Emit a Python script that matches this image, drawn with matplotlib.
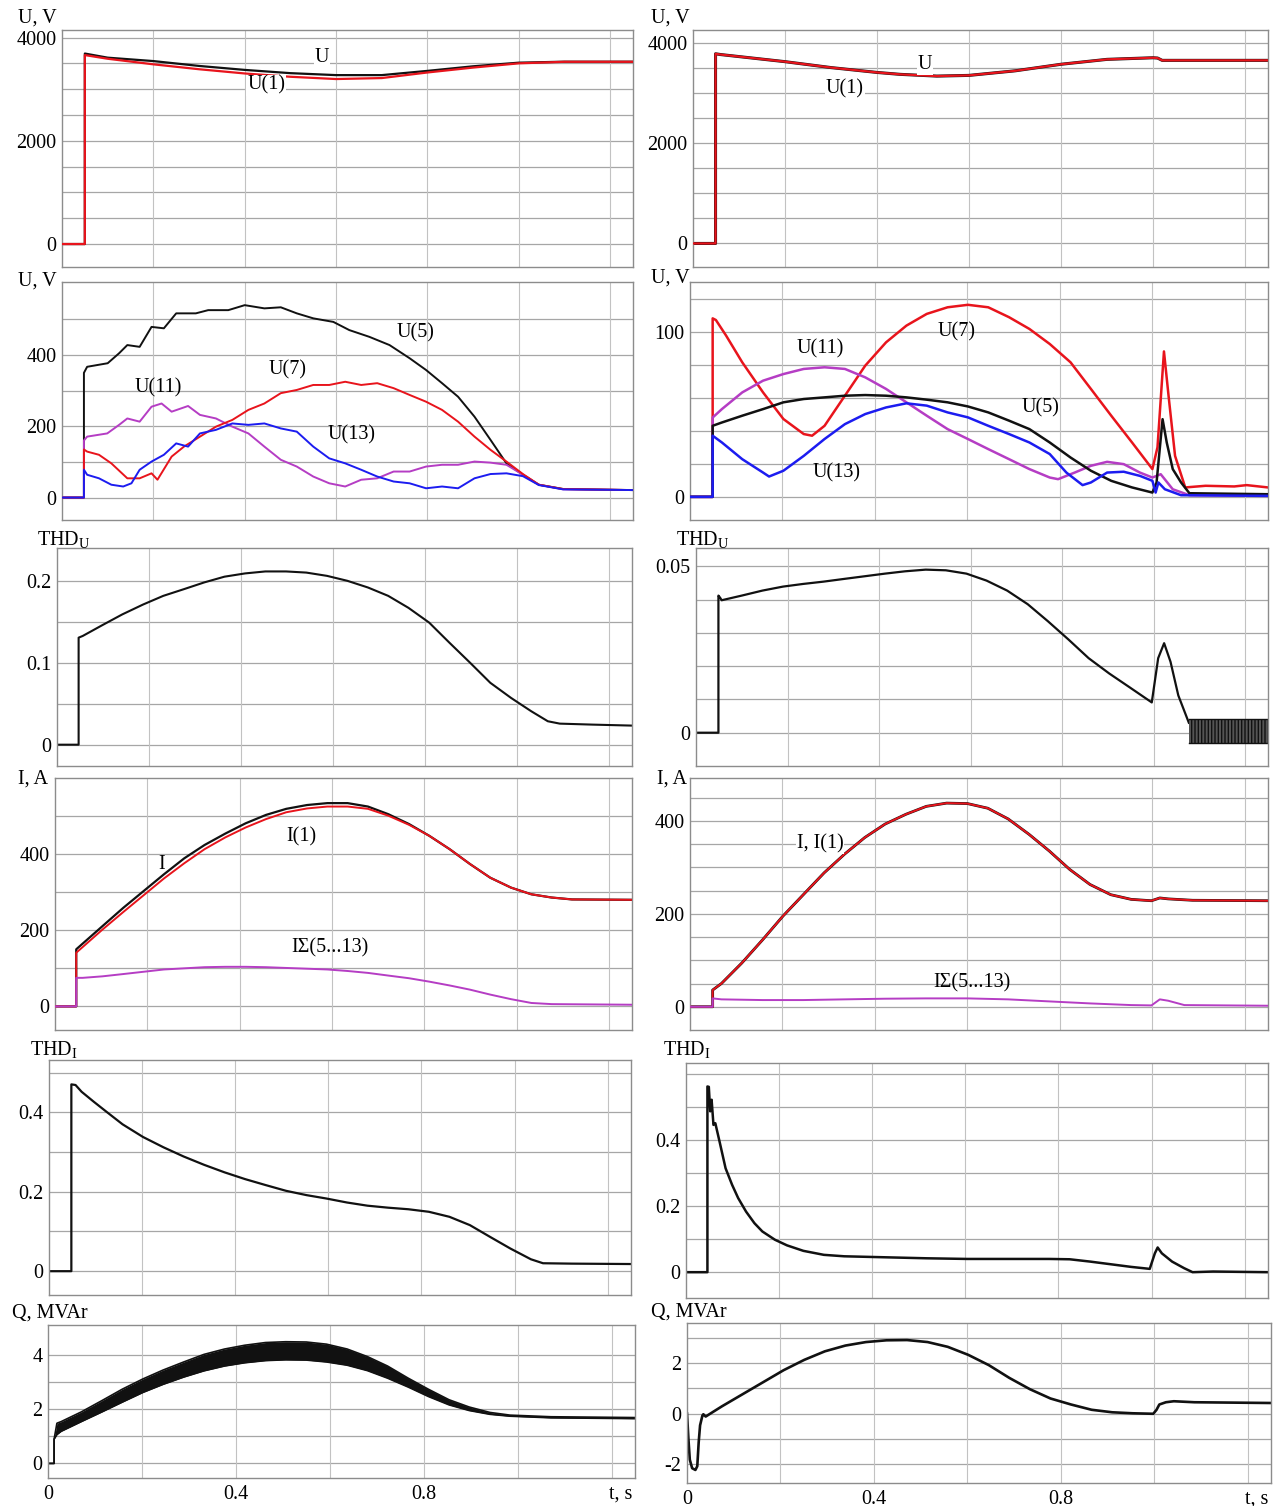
import matplotlib
matplotlib.use('Agg')
import matplotlib.pyplot as plt

plt.rcParams['font.family'] = ['Liberation Serif', 'DejaVu Serif']
plt.rcParams['mathtext.fontset'] = 'custom'
plt.rcParams['mathtext.rm'] = 'Liberation Serif'
plt.rcParams['mathtext.it'] = 'Liberation Serif:italic'
plt.rcParams['mathtext.bf'] = 'Liberation Serif:bold'
plt.rcParams['hatch.linewidth'] = 1.0

# ---------------- data ----------------
# Row 1 left: U, U(1)
t_r1l = [0, 0.05, 0.05, 0.1, 0.2, 0.3, 0.4, 0.5, 0.6, 0.7, 0.8, 0.9, 1.0, 1.1, 1.25]
u_r1l = [0, 0, 3690, 3610, 3544, 3450, 3373, 3310, 3272, 3272, 3354, 3443, 3513, 3532, 3532]
u1_r1l = [0, 0, 3660, 3589, 3481, 3386, 3304, 3240, 3196, 3215, 3323, 3418, 3500, 3530, 3530]
# Row 1 right: U = U(1)
t_r1r = [0, 0.049, 0.049, 0.06, 0.2, 0.3, 0.4, 0.45, 0.53, 0.6, 0.7, 0.8, 0.9, 1.0, 1.01, 1.02, 1.25]
u_r1r = [0, 0, 3785, 3770, 3628, 3510, 3413, 3375, 3340, 3354, 3445, 3576, 3674, 3706, 3700, 3654, 3654]

# Row 2 left: harmonics
t5_l = [0, 0.048, 0.048, 0.055, 0.10, 0.125, 0.143, 0.17, 0.196, 0.223, 0.25, 0.293, 0.32, 0.364, 0.40, 0.443,
        0.479, 0.514, 0.55, 0.594, 0.629, 0.673, 0.717, 0.761, 0.797, 0.832, 0.867, 0.903, 0.938, 0.973, 1.009,
        1.044, 1.097, 1.25]
u5_l = [0, 0, 350, 367, 377, 405, 428, 423, 479, 475, 517, 517, 526, 526, 540, 531, 534, 517, 503, 493, 470, 451,
        428, 391, 358, 321, 283, 227, 162, 96, 64, 36, 24, 21]
t7_l = [0, 0.048, 0.048, 0.055, 0.081, 0.108, 0.143, 0.17, 0.196, 0.209, 0.24, 0.267, 0.302, 0.337, 0.373, 0.408,
        0.443, 0.479, 0.514, 0.55, 0.585, 0.62, 0.655, 0.69, 0.726, 0.761, 0.797, 0.832, 0.867, 0.903, 0.938, 0.973,
        1.009, 1.044, 1.097, 1.25]
u7_l = [0, 0, 135, 129, 120, 96, 54, 54, 68, 50, 115, 143, 171, 199, 218, 246, 264, 293, 302, 316, 316, 325, 316,
        321, 307, 288, 269, 246, 213, 171, 134, 101, 66, 36, 24, 21]
t11_l = [0, 0.048, 0.048, 0.055, 0.099, 0.125, 0.143, 0.17, 0.196, 0.218, 0.24, 0.276, 0.302, 0.337, 0.373, 0.408,
         0.443, 0.479, 0.514, 0.55, 0.585, 0.62, 0.655, 0.69, 0.726, 0.761, 0.797, 0.832, 0.867, 0.903, 0.938, 0.973,
         1.009, 1.044, 1.097, 1.25]
u11_l = [0, 0, 160, 171, 180, 204, 222, 213, 255, 264, 241, 257, 232, 222, 199, 180, 143, 106, 87, 59, 40, 31, 50,
         54, 73, 73, 87, 92, 92, 101, 98, 92, 64, 36, 23, 21]
t13_l = [0, 0.048, 0.048, 0.055, 0.081, 0.108, 0.134, 0.152, 0.17, 0.196, 0.223, 0.25, 0.276, 0.302, 0.337, 0.373,
         0.408, 0.443, 0.479, 0.514, 0.55, 0.585, 0.62, 0.655, 0.69, 0.726, 0.761, 0.797, 0.832, 0.867, 0.903, 0.938,
         0.973, 1.009, 1.044, 1.097, 1.25]
u13_l = [0, 0, 78, 64, 54, 36, 31, 40, 78, 101, 120, 152, 143, 180, 190, 208, 204, 208, 194, 185, 143, 110, 96, 78,
         59, 45, 40, 26, 31, 26, 54, 66, 68, 60, 35, 23, 21]

# Row 2 right: harmonics
t7_r = [0, 0.049, 0.049, 0.056, 0.078, 0.113, 0.158, 0.202, 0.246, 0.264, 0.291, 0.335, 0.379, 0.424, 0.468, 0.512,
        0.557, 0.601, 0.645, 0.69, 0.734, 0.778, 0.823, 0.867, 0.911, 0.956, 1.0, 1.011, 1.025, 1.035, 1.049, 1.071,
        1.115, 1.177, 1.204, 1.25]
u7_r = [0, 0, 108, 107, 97.6, 81.4, 63.2, 47.1, 38, 37, 43, 61.2, 79.4, 93.5, 103.6, 110.7, 114.7, 116.2, 114.7,
        108.7, 101.6, 92.5, 81.4, 65.3, 49.1, 32.9, 16.8, 30, 88, 61, 24.8, 5.7, 6.7, 6.3, 7.1, 5.7]
t11_r = [0, 0.049, 0.049, 0.069, 0.113, 0.158, 0.202, 0.246, 0.291, 0.335, 0.379, 0.424, 0.468, 0.512, 0.557, 0.601,
         0.645, 0.69, 0.734, 0.778, 0.796, 0.832, 0.867, 0.902, 0.938, 0.973, 1.0, 1.018, 1.044, 1.08, 1.25]
u11_r = [0, 0, 48, 53.1, 63.2, 70.3, 74.3, 77.4, 78.4, 77.4, 72.3, 65.3, 57.2, 49.1, 41, 35, 28.9, 22.8, 16.8, 11.7,
         10.7, 14.7, 18.8, 21.2, 19.8, 14.7, 11.7, 13.7, 4.6, 1, 0.6]
t5_r = [0, 0.049, 0.049, 0.069, 0.113, 0.158, 0.202, 0.246, 0.291, 0.335, 0.379, 0.424, 0.468, 0.512, 0.557, 0.601,
        0.645, 0.69, 0.734, 0.778, 0.823, 0.867, 0.911, 0.956, 1.0, 1.009, 1.022, 1.031, 1.044, 1.062, 1.08, 1.25]
u5_r = [0, 0, 43, 45, 49.1, 53.1, 57.2, 59.2, 60.2, 61.2, 61.6, 61.2, 60.2, 58.8, 57.2, 54.7, 51.1, 46.1, 41, 32.9,
        23.8, 15.8, 9.7, 5.7, 2.6, 8.7, 47, 32.9, 16.8, 8.7, 2.2, 1.6]
t13_r = [0, 0.049, 0.049, 0.069, 0.113, 0.158, 0.171, 0.202, 0.246, 0.291, 0.335, 0.379, 0.424, 0.468, 0.512, 0.557,
         0.601, 0.645, 0.69, 0.734, 0.778, 0.814, 0.849, 0.867, 0.902, 0.938, 0.973, 1.0, 1.007, 1.013, 1.027, 1.062,
         1.25]
u13_r = [0, 0, 37, 32.9, 22.8, 14.7, 12.3, 15.8, 24.8, 35, 44, 50.1, 54.1, 56.6, 55.2, 51.1, 48.1, 43, 38, 32.9,
         25.9, 14.7, 7.1, 8.7, 14.7, 15.2, 12.7, 9.7, 2.6, 8.7, 4.6, 1, 0.6]

# Row 3: THD_U
t_thdu_l = [0, 0.047, 0.047, 0.056, 0.098, 0.142, 0.187, 0.231, 0.276, 0.32, 0.364, 0.409, 0.453, 0.498, 0.542,
            0.587, 0.631, 0.676, 0.72, 0.764, 0.809, 0.853, 0.898, 0.942, 0.987, 1.031, 1.067, 1.093, 1.164, 1.25]
thdu_l = [0, 0, 0.1306, 0.1327, 0.1457, 0.159, 0.171, 0.1816, 0.1898, 0.198, 0.205, 0.209, 0.2114, 0.2114, 0.210,
          0.206, 0.200, 0.1918, 0.1816, 0.167, 0.149, 0.1245, 0.100, 0.0755, 0.0571, 0.0408, 0.0286, 0.0257, 0.0245,
          0.0233]
t_thdu_r = [0, 0.049, 0.049, 0.053, 0.056, 0.1, 0.145, 0.19, 0.234, 0.279, 0.323, 0.368, 0.413, 0.457, 0.502, 0.546,
            0.591, 0.635, 0.68, 0.725, 0.769, 0.814, 0.858, 0.903, 0.947, 0.996, 1.01, 1.023, 1.037, 1.054, 1.077]
thdu_r = [0, 0, 0.0412, 0.0405, 0.0398, 0.0412, 0.0427, 0.0439, 0.0447, 0.0454, 0.0462, 0.047, 0.0478, 0.0485,
          0.049, 0.0488, 0.0478, 0.0457, 0.0427, 0.0386, 0.0335, 0.028, 0.0224, 0.0178, 0.0137, 0.0091, 0.0224,
          0.0269, 0.0213, 0.0112, 0.003]
t_thdu_band = [1.077, 1.25]
thdu_band_hi = [0.0041, 0.0041]
thdu_band_lo = [-0.003, -0.003]

# Row 4: currents
t_i_l = [0, 0.046, 0.046, 0.103, 0.148, 0.192, 0.236, 0.28, 0.324, 0.369, 0.413, 0.457, 0.501, 0.546, 0.59, 0.634,
         0.678, 0.722, 0.767, 0.811, 0.855, 0.899, 0.943, 0.988, 1.032, 1.076, 1.12, 1.25]
i_l = [0, 0, 150, 211, 259, 303, 347, 389, 424, 454, 481, 503, 519, 529, 534, 534, 525, 505, 479, 448, 413, 374, 338,
       312, 294.5, 286, 281, 280]
i1_l = [0, 0, 141, 202, 248, 292, 336, 376, 413, 444, 470, 492, 510, 520, 525, 525, 519, 501, 477, 448, 413, 374, 338,
        312, 294.5, 286, 281, 280]
t_is_l = [0, 0.046, 0.046, 0.06, 0.103, 0.148, 0.192, 0.236, 0.28, 0.324, 0.369, 0.413, 0.457, 0.501, 0.546, 0.59,
          0.634, 0.678, 0.722, 0.767, 0.811, 0.855, 0.899, 0.943, 0.988, 1.032, 1.076, 1.25]
is_l = [0, 0, 75, 75, 79, 85, 91, 97, 100, 103, 104, 104, 103, 101, 99, 97, 93, 88, 81, 74, 65, 55, 44, 31, 19, 9, 6,
        4.4]
t_i_r = [0, 0.049, 0.049, 0.068, 0.112, 0.157, 0.201, 0.245, 0.29, 0.334, 0.378, 0.422, 0.467, 0.511, 0.555, 0.6,
         0.644, 0.688, 0.733, 0.777, 0.821, 0.865, 0.91, 0.954, 0.998, 1.016, 1.034, 1.087, 1.25]
i_r = [0, 0, 36, 50, 94, 144, 195, 241, 288, 328, 364, 393, 414, 431, 438, 437, 427, 404, 371, 335, 295.5, 263, 241,
       231, 228, 234, 232, 229, 228]
t_is_r = [0, 0.049, 0.049, 0.068, 0.157, 0.245, 0.334, 0.422, 0.511, 0.6, 0.688, 0.777, 0.865, 0.954, 0.998, 1.016,
          1.034, 1.069, 1.25]
is_r = [0, 0, 18, 15.9, 14.4, 14.4, 15.9, 17.3, 18, 18, 15.9, 11.5, 7.2, 3.6, 2.9, 15.9, 13, 3.6, 2.2]

# Row 5: THD_I
t_thdi_l = [0, 0.048, 0.048, 0.057, 0.07, 0.096, 0.123, 0.158, 0.202, 0.246, 0.289, 0.333, 0.377, 0.421, 0.465,
            0.509, 0.553, 0.596, 0.64, 0.684, 0.728, 0.772, 0.816, 0.86, 0.904, 0.947, 0.991, 1.035, 1.061, 1.123, 1.25]
thdi_l = [0, 0, 0.4706, 0.469, 0.452, 0.427, 0.402, 0.370, 0.338, 0.312, 0.289, 0.268, 0.249, 0.232, 0.217, 0.2025,
          0.1916, 0.183, 0.173, 0.165, 0.16, 0.156, 0.1496, 0.137, 0.116, 0.0866, 0.057, 0.030, 0.020, 0.019, 0.018]
t_thdi_r = [0, 0.046, 0.046, 0.049, 0.052, 0.055, 0.059, 0.063, 0.072, 0.085, 0.099, 0.112, 0.129, 0.147, 0.164,
            0.191, 0.217, 0.252, 0.296, 0.34, 0.428, 0.516, 0.604, 0.692, 0.78, 0.824, 0.868, 0.912, 0.956, 0.996,
            1.007, 1.013, 1.022, 1.044, 1.07, 1.088, 1.132, 1.25]
thdi_r = [0, 0, 0.561, 0.56, 0.486, 0.521, 0.445, 0.45, 0.395, 0.314, 0.264, 0.224, 0.183, 0.148, 0.123, 0.098, 0.081,
          0.0645, 0.0524, 0.048, 0.045, 0.042, 0.040, 0.040, 0.040, 0.039, 0.032, 0.024, 0.016, 0.010, 0.057, 0.0746,
          0.057, 0.032, 0.012, 0.0, 0.002, 0.0]

# Row 6: Q
t_q_l = [0, 0.013, 0.013, 0.019, 0.028, 0.071, 0.115, 0.158, 0.202, 0.245, 0.289, 0.332, 0.376, 0.419, 0.463, 0.506,
         0.55, 0.593, 0.637, 0.68, 0.723, 0.767, 0.81, 0.854, 0.897, 0.941, 0.984, 1.028, 1.071, 1.25]
q_hi_l = [0, 0, 0.9, 1.49, 1.55, 1.91, 2.33, 2.75, 3.13, 3.46, 3.76, 4.04, 4.24, 4.38, 4.48, 4.51, 4.50, 4.42, 4.24,
          3.96, 3.61, 3.16, 2.75, 2.36, 2.09, 1.89, 1.79, 1.76, 1.73, 1.70]
q_lo_l = [0, 0, 0.9, 1.07, 1.19, 1.55, 1.91, 2.27, 2.63, 2.93, 3.20, 3.43, 3.61, 3.73, 3.81, 3.84, 3.83, 3.76, 3.64,
          3.44, 3.16, 2.83, 2.48, 2.17, 1.96, 1.82, 1.75, 1.72, 1.69, 1.66]
t_q_r = [0, 0.003, 0.006, 0.011, 0.018, 0.022, 0.025, 0.028, 0.033, 0.035, 0.04, 0.057, 0.075, 0.119, 0.163, 0.207,
         0.251, 0.295, 0.339, 0.383, 0.427, 0.471, 0.515, 0.558, 0.602, 0.646, 0.69, 0.734, 0.778, 0.822, 0.866, 0.91,
         0.954, 0.998, 1.005, 1.011, 1.025, 1.042, 1.086, 1.25]
q_r = [0, -1.0, -1.84, -2.18, -2.25, -2.1, -1.15, -0.47, -0.08, -0.03, -0.12, 0.08, 0.29, 0.77, 1.25, 1.73, 2.14,
       2.48, 2.71, 2.85, 2.92, 2.93, 2.85, 2.66, 2.34, 1.93, 1.42, 0.97, 0.60, 0.36, 0.15, 0.05, 0.01, -0.01, 0.15,
       0.36, 0.45, 0.49, 0.45, 0.42]

x_tick_vals = [0, 0.4, 0.8, 1.22]
x_tick_labels = ['0', '0.4', '0.8', 't, s']

# ---------------- styling ----------------
W, H = 1282, 1506
fig = plt.figure(figsize=(W / 100, H / 100), dpi=100)
fig.patch.set_facecolor('white')

BLACK = '#111111'
RED = '#e8141c'
BLUE = '#1c1cf0'
MAG = '#b53dc4'
HG = '#a6a6a6'
VG = '#c2c2c2'
SP = '#8c8c8c'
FS = 14.5
XGRID = [0.2, 0.4, 0.6, 0.8, 1.0, 1.2]
LBL_BOX = dict(facecolor='white', edgecolor='none', pad=0.6)


def make_ax(box, ylim, ygrid, yticks, yticklabels, bottom=False):
    l, t, r, b = box
    ax = fig.add_axes([l / W, 1 - b / H, (r - l) / W, (b - t) / H])
    ax.set_xlim(0, 1.25)
    ax.set_ylim(*ylim)
    for g in ygrid:
        ax.axhline(g, color=HG, lw=0.9, zorder=0.5)
    for g in XGRID:
        ax.axvline(g, color=VG, lw=0.8, zorder=0.5)
    ax.set_yticks(yticks)
    ax.set_yticklabels(yticklabels)
    ax.tick_params(length=0, labelsize=FS, pad=4)
    if bottom:
        ax.set_xticks(x_tick_vals)
        ax.set_xticklabels(x_tick_labels)
        ax.tick_params(axis='x', pad=5)
    else:
        ax.set_xticks([])
    for s in ax.spines.values():
        s.set_color(SP)
        s.set_linewidth(1.0)
    return ax


def ylab(x, y, s):
    fig.text(x / W, 1 - y / H, s, fontsize=FS, ha='left', va='center')


# Row 1
ax = make_ax([62, 30, 633, 267], (-445, 4146), [0, 500, 1000, 1500, 2000, 2500, 3000, 3500, 4000],
             [0, 2000, 4000], ['0', '2000', '4000'])
ax.plot(t_r1l, u_r1l, color=BLACK, lw=1.6, zorder=2)
ax.plot(t_r1l, u1_r1l, color=RED, lw=1.6, zorder=3)
ax.text(0.569, 3608, 'U', fontsize=FS, ha='center', va='center', bbox=LBL_BOX, zorder=5)
ax.text(0.447, 3078, 'U(1)', fontsize=FS, ha='center', va='center', bbox=LBL_BOX, zorder=5)
ylab(18, 18, 'U, V')

ax = make_ax([693, 30, 1268, 267], (-470, 4260), [0, 500, 1000, 1500, 2000, 2500, 3000, 3500, 4000],
             [0, 2000, 4000], ['0', '2000', '4000'])
ax.plot(t_r1r, u_r1r, color=BLACK, lw=2.2, zorder=2)
ax.plot(t_r1r, u_r1r, color=RED, lw=1.6, zorder=3)
ax.text(0.504, 3569, 'U', fontsize=FS, ha='center', va='center', bbox=LBL_BOX, zorder=5)
ax.text(0.330, 3078, 'U(1)', fontsize=FS, ha='center', va='center', bbox=LBL_BOX, zorder=5)
ylab(651, 18, 'U, V')

# Row 2
ax = make_ax([62, 282, 633, 520], (-63, 605), [0, 100, 200, 300, 400, 500], [0, 200, 400], ['0', '200', '400'])
ax.plot(t5_l, u5_l, color=BLACK, lw=1.4, zorder=2)
ax.plot(t11_l, u11_l, color=MAG, lw=1.4, zorder=2)
ax.plot(t7_l, u7_l, color=RED, lw=1.4, zorder=3)
ax.plot(t13_l, u13_l, color=BLUE, lw=1.4, zorder=4)
ax.text(0.773, 462, 'U(5)', fontsize=FS, ha='center', va='center', zorder=5)
ax.text(0.493, 358, 'U(7)', fontsize=FS, ha='center', va='center', zorder=5)
ax.text(0.210, 307, 'U(11)', fontsize=FS, ha='center', va='center', zorder=5)
ax.text(0.633, 177, 'U(13)', fontsize=FS, ha='center', va='center', zorder=5)
ylab(18, 281, 'U, V')

ax = make_ax([690, 282, 1268, 520], (-14, 130), [0, 20, 40, 60, 80, 100, 120], [0, 100], ['0', '100'])
ax.plot(t7_r, u7_r, color=RED, lw=1.8, zorder=2)
ax.plot(t11_r, u11_r, color=MAG, lw=1.8, zorder=3)
ax.plot(t5_r, u5_r, color=BLACK, lw=1.8, zorder=3)
ax.plot(t13_r, u13_r, color=BLUE, lw=1.8, zorder=4)
ax.text(0.281, 89.7, 'U(11)', fontsize=FS, ha='center', va='center', zorder=5)
ax.text(0.577, 100, 'U(7)', fontsize=FS, ha='center', va='center', zorder=5)
ax.text(0.757, 53.9, 'U(5)', fontsize=FS, ha='center', va='center', zorder=5)
ax.text(0.318, 14.5, 'U(13)', fontsize=FS, ha='center', va='center', zorder=5)
ylab(651, 278, 'U, V')

# Row 3
ax = make_ax([57, 548, 632, 766], (-0.026, 0.24), [0, 0.05, 0.1, 0.15, 0.2], [0, 0.1, 0.2], ['0', '0.1', '0.2'])
ax.plot(t_thdu_l, thdu_l, color=BLACK, lw=1.5, zorder=2)
ylab(37, 539, r'THD$_{\mathrm{U}}$')

ax = make_ax([696, 548, 1268, 766], (-0.010, 0.0555), [0, 0.01, 0.02, 0.03, 0.04, 0.05], [0, 0.05], ['0', '0.05'])
ax.plot(t_thdu_r, thdu_r, color=BLACK, lw=1.6, zorder=2)
ax.fill_between(t_thdu_band, thdu_band_lo, thdu_band_hi, facecolor='#555555', edgecolor=BLACK,
                hatch='|||||', lw=0, zorder=2)
ax.plot(t_thdu_band, thdu_band_hi, color=BLACK, lw=1.0, zorder=2)
ax.plot(t_thdu_band, thdu_band_lo, color=BLACK, lw=1.0, zorder=2)
ylab(676, 539, r'THD$_{\mathrm{U}}$')

# Row 4
ax = make_ax([55, 778, 632, 1030], (-62, 600), [0, 100, 200, 300, 400, 500], [0, 200, 400], ['0', '200', '400'])
ax.plot(t_i_l, i_l, color=BLACK, lw=1.6, zorder=2)
ax.plot(t_i_l, i1_l, color=RED, lw=1.4, zorder=3)
ax.plot(t_is_l, is_l, color=MAG, lw=1.4, zorder=3)
ax.text(0.232, 372, 'I', fontsize=FS, ha='center', va='center', zorder=5)
ax.text(0.533, 445, 'I(1)', fontsize=FS, ha='center', va='center', zorder=5)
ax.text(0.596, 154, 'IΣ(5...13)', fontsize=FS, ha='center', va='center', zorder=5)
ylab(18, 779, 'I, A')

ax = make_ax([690, 778, 1268, 1030], (-50, 492), [0, 50, 100, 150, 200, 250, 300, 350, 400, 450],
             [0, 200, 400], ['0', '200', '400'])
ax.plot(t_i_r, i_r, color=BLACK, lw=2.0, zorder=2)
ax.plot(t_i_r, i_r, color=RED, lw=1.4, zorder=3)
ax.plot(t_is_r, is_r, color=MAG, lw=1.4, zorder=3)
ax.text(0.281, 350, 'I, I(1)', fontsize=FS, ha='center', va='center', bbox=LBL_BOX, zorder=5)
ax.text(0.61, 52, 'IΣ(5...13)', fontsize=FS, ha='center', va='center', zorder=5)
ylab(657, 779, 'I, A')

# Row 5
ax = make_ax([49, 1060, 631, 1295], (-0.06, 0.532), [0, 0.1, 0.2, 0.3, 0.4, 0.5], [0, 0.2, 0.4],
             ['0', '0.2', '0.4'])
ax.plot(t_thdi_l, thdi_l, color=BLACK, lw=1.6, zorder=2)
ylab(30, 1049, r'THD$_{\mathrm{I}}$')

ax = make_ax([686, 1063, 1268, 1298], (-0.078, 0.632), [0, 0.1, 0.2, 0.3, 0.4, 0.5, 0.6], [0, 0.2, 0.4],
             ['0', '0.2', '0.4'])
ax.plot(t_thdi_r, thdi_r, color=BLACK, lw=1.8, zorder=2)
ylab(663, 1049, r'THD$_{\mathrm{I}}$')

# Row 6
ax = make_ax([48, 1325, 635, 1478], (-0.54, 5.13), [0, 1, 2, 3, 4], [0, 2, 4], ['0', '2', '4'], bottom=True)
ax.fill_between(t_q_l, q_lo_l, q_hi_l, color=BLACK, lw=0, zorder=2)
ax.plot(t_q_l, q_hi_l, color=BLACK, lw=1.2, zorder=2)
ax.plot(t_q_l, q_lo_l, color=BLACK, lw=1.2, zorder=2)
ylab(12, 1313, 'Q, MVAr')

ax = make_ax([687, 1323, 1271, 1483], (-2.77, 3.61), [-2, -1, 0, 1, 2, 3], [-2, 0, 2], ['-2', '0', '2'],
             bottom=True)
ax.plot(t_q_r, q_r, color=BLACK, lw=1.9, zorder=2)
ylab(651, 1312, 'Q, MVAr')

fig.savefig('out.png', dpi=100, facecolor='white')
